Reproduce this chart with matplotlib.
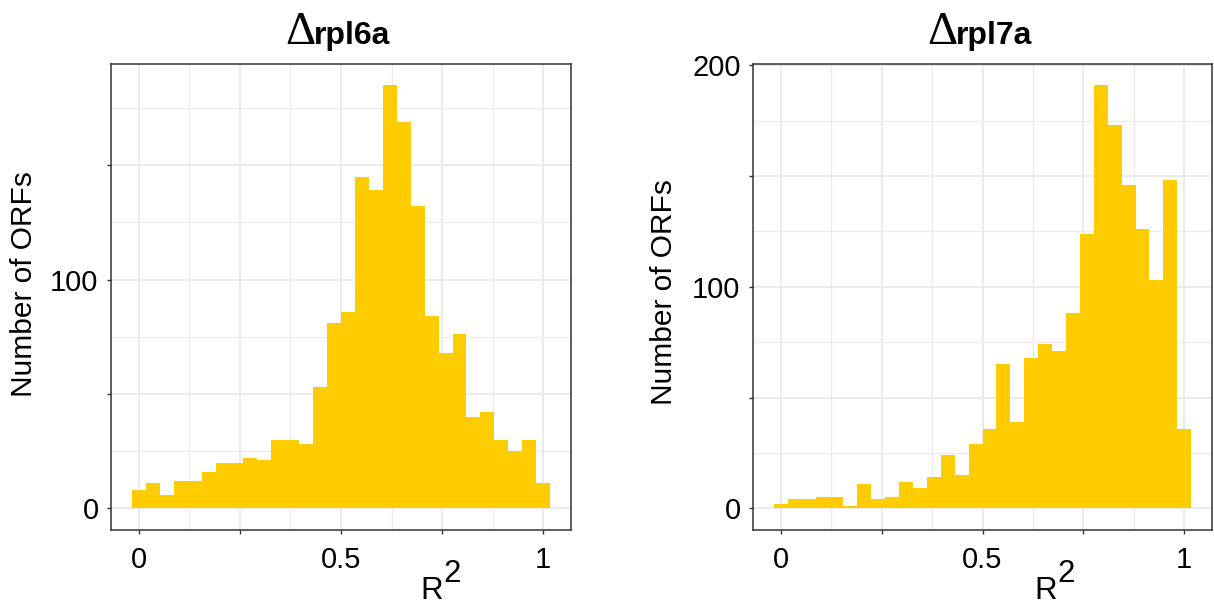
import numpy as np
import matplotlib.pyplot as plt

plt.rcParams['font.family'] = ['Liberation Sans', 'DejaVu Sans']

# histogram counts (30 bins over R^2 in [0, 1])
rpl6a_counts = [8, 11, 6, 12, 12, 16, 20, 20, 22, 21,
                30, 30, 28, 53, 81, 86, 145, 139, 185, 169,
                132, 84, 68, 76, 40, 42, 30, 25, 30, 11]
rpl7a_counts = [2, 4, 4, 5, 5, 1, 11, 4, 5, 12,
                9, 14, 24, 15, 29, 36, 65, 39, 68, 74,
                71, 88, 124, 191, 173, 146, 126, 103, 148, 36]
panel_names = ["rpl6a", "rpl7a"]
x_breaks = [0, 0.25, 0.5, 0.75, 1]
x_labels = ["0", "", "0.5", "", "1"]
y_breaks = [[0, 50, 100, 150], [0, 50, 100, 150, 200]]
y_labels = [["0", "", "100", ""], ["0", "", "100", "", "200"]]

bar_color = "#FFCC00"
W, H = 1214, 606

fig = plt.figure(figsize=(W / 100, H / 100), dpi=100)


def px(x, y):
    return x / W, 1 - y / H


panels = [
    dict(left=111, right=571, counts=rpl6a_counts, tri_x=285, txt_x=314,
         ylab=(24, 284), r_x=420),
    dict(left=753, right=1212, counts=rpl7a_counts, tri_x=927, txt_x=956,
         ylab=(664, 292), r_x=1034),
]
top, bottom = 64, 529.5

for i, p in enumerate(panels):
    ax = fig.add_axes([p["left"] / W, 1 - bottom / H,
                       (p["right"] - p["left"]) / W, (bottom - top) / H])
    counts = np.array(p["counts"])
    nb = len(counts)
    centers = np.linspace(0, 1, nb)
    bw = 1 / (nb - 1)
    ax.bar(centers, counts, width=bw, color=bar_color, linewidth=0, zorder=2)

    span = 1 + bw
    ax.set_xlim(-bw / 2 - 0.05 * span, 1 + bw / 2 + 0.05 * span)
    ymax = counts.max()
    ax.set_ylim(-0.05 * ymax, 1.05 * ymax)

    ax.set_xticks(x_breaks)
    ax.set_xticklabels(x_labels)
    ax.set_xticks([0.125, 0.375, 0.625, 0.875], minor=True)
    ax.set_yticks(y_breaks[i])
    ax.set_yticklabels(y_labels[i])
    ax.set_yticks([25, 75, 125, 175], minor=True)

    ax.grid(which="major", color="#EBEBEB", lw=1.4, zorder=0)
    ax.grid(which="minor", color="#EBEBEB", lw=1.0, zorder=0)
    ax.set_axisbelow(True)
    ax.tick_params(which="major", length=3, width=1.0, color="#333333",
                   labelsize=21, labelcolor="black")
    ax.tick_params(axis="x", pad=9)
    ax.tick_params(axis="y", pad=6)
    ax.tick_params(which="minor", length=0)
    for s in ax.spines.values():
        s.set_color("#333333")
        s.set_linewidth(1.1)

    # title: outlined delta + bold gene name
    fig.text(*px(p["tri_x"], 44), "\u0394", family="Liberation Serif",
             fontsize=34, ha="left", va="baseline")
    fig.text(*px(p["txt_x"], 44), panel_names[i], fontsize=23,
             fontweight="bold", ha="left", va="baseline")

    # axis labels
    fig.text(*px(*p["ylab"]), "Number of ORFs", fontsize=21.5, rotation=90,
             ha="center", va="center")
    fig.text(*px(p["r_x"], 599), "R", fontsize=22.5, ha="left", va="baseline")
    fig.text(*px(p["r_x"] + 23, 582.5), "2", fontsize=22.5, ha="left",
             va="baseline")

fig.savefig("out.png", dpi=100)
